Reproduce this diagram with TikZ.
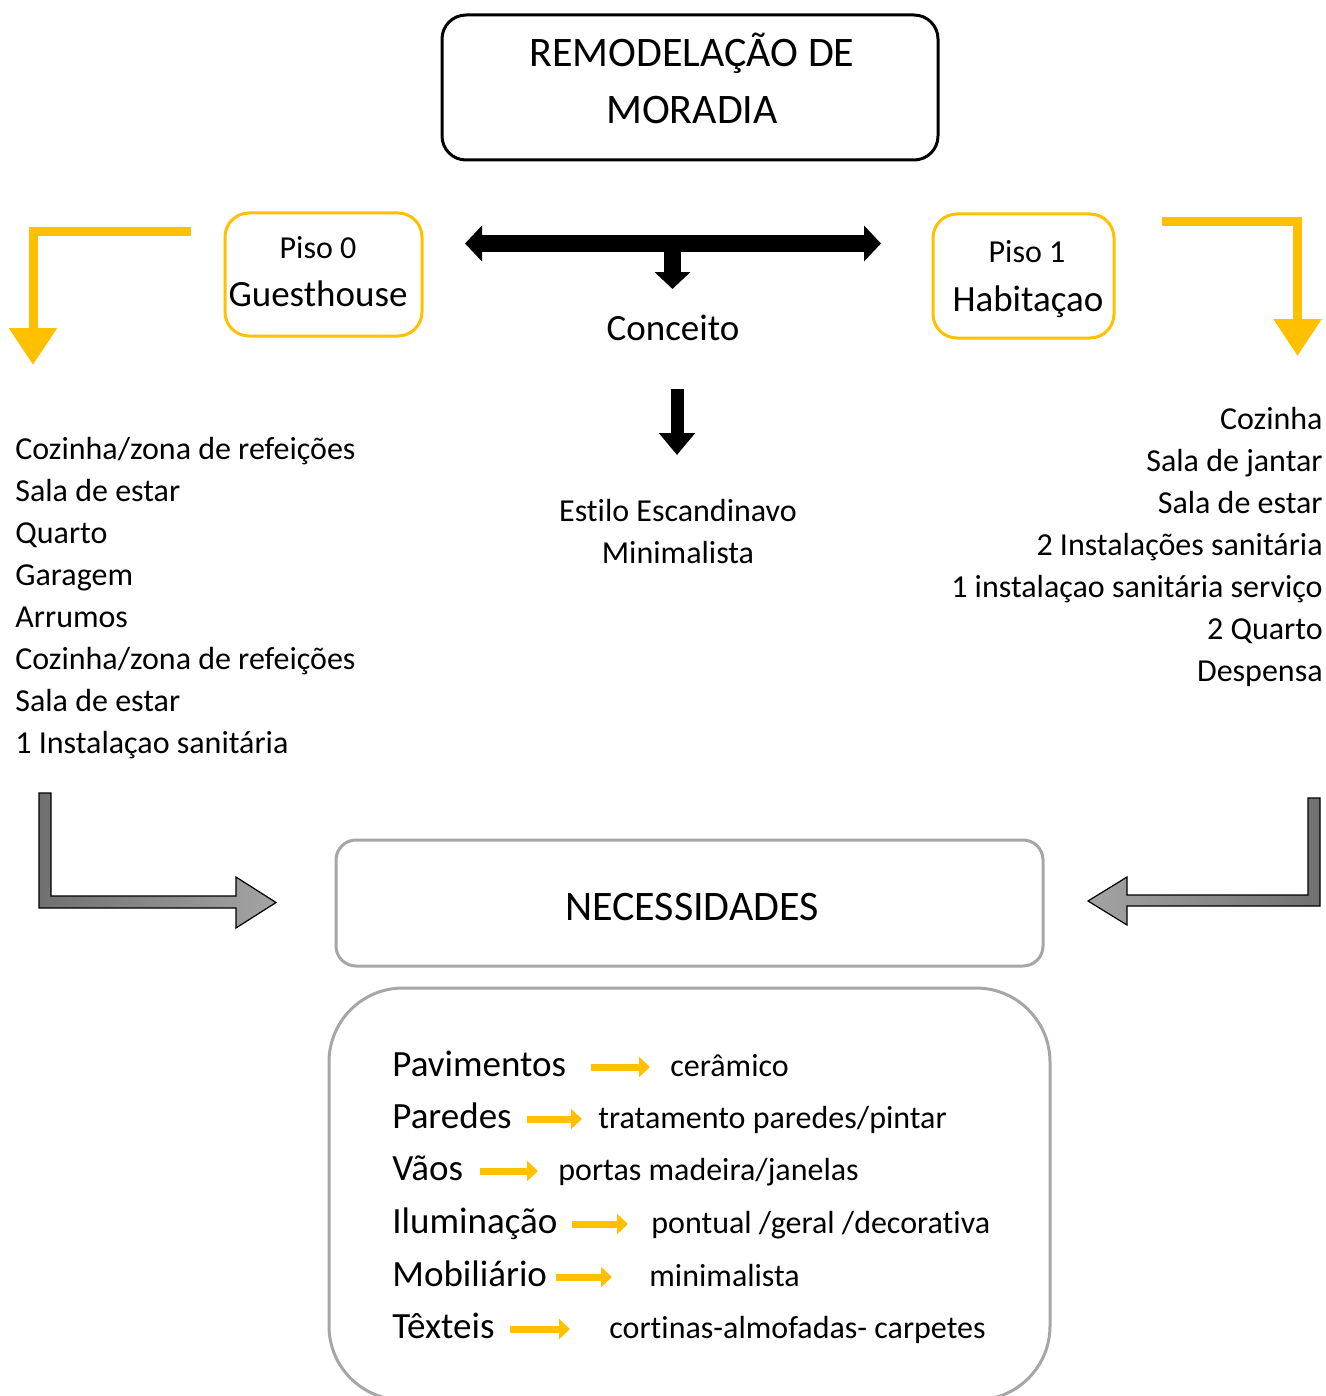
\documentclass[tikz,border=0pt]{standalone}
\usepackage{fontspec}
\setmainfont{Carlito}[Ligatures=NoCommon]
\usetikzlibrary{arrows.meta}
\definecolor{amarelo}{RGB}{255,192,0}
\definecolor{cinza}{RGB}{166,166,166}
\definecolor{cinzaesc}{RGB}{112,112,112}
\definecolor{cinzacla}{RGB}{164,164,164}

\begin{document}
\begin{tikzpicture}[
  x=0.5pt, y=-0.5pt,
  txtbig/.style={inner sep=0pt, font=\fontsize{21}{28.5}\selectfont},
  txtmid/.style={inner sep=0pt, font=\fontsize{18.5}{22}\selectfont},
  txtsmall/.style={inner sep=0pt, font=\fontsize{16}{21}\selectfont},
  titlebox/.style={draw, line width=1.5pt, rounded corners=12pt, inner sep=0pt},
  pisobox/.style={draw=amarelo, line width=1.5pt, rounded corners=12pt, inner sep=0pt},
  needbox/.style={draw=cinza, line width=1.5pt, inner sep=0pt},
  yelbent/.style={draw=amarelo, line width=4.5pt, -{Triangle[length=18.5pt,width=23pt]}},
  blackboth/.style={line width=8.5pt, {Triangle[length=8.5pt,width=17.5pt]}-{Triangle[length=8.5pt,width=17.5pt]}},
  blackstub/.style={line width=8.5pt, -{Triangle[length=8.5pt,width=17.5pt]}},
  blackdown/.style={line width=6.5pt, -{Triangle[length=11pt,width=17.5pt]}},
  itemarrow/.style={draw=amarelo, line width=3.5pt, -{Triangle[length=5.5pt,width=10pt]}},
  graybent/.style={draw=black, line width=0.6pt}]
\useasboundingbox (0,0) rectangle (1326,1396);

% titulo
\node[titlebox, minimum width=248pt, minimum height=72.5pt] (title) at (690,87.5) {};
\node[txtbig, align=center, anchor=base] (titletxt) at (692,124) {REMODELAÇÃO DE\\MORADIA};

% pisos
\node[pisobox, minimum width=98.5pt, minimum height=61.5pt] (piso0) at (323.5,274.5) {};
\node[txtsmall, anchor=base] (piso0a) at (318,258) {Piso 0};
\node[txtmid, anchor=base] (piso0b) at (318,306) {Guesthouse};
\node[pisobox, minimum width=90.5pt, minimum height=62pt] (piso1) at (1023.5,276) {};
\node[txtsmall, anchor=base] (piso1a) at (1027,263) {Piso 1};
\node[txtmid, anchor=base] (piso1b) at (1028,311) {Habitaçao};

% setas amarelas
\coordinate (ini0) at (191,231.5);
\coordinate (fim0) at (33,365);
\coordinate (ini1) at (1162,222);
\coordinate (fim1) at (1297.5,356);
\draw[yelbent] (ini0) -| (fim0);
\draw[yelbent] (ini1) -| (fim1);

% conceito
\coordinate (eixoE) at (465,243.5);
\coordinate (eixoD) at (881,243.5);
\coordinate (eixoM) at (672.5,250);
\coordinate (eixoP) at (672.5,289);
\draw[blackboth] (eixoE) -- (eixoD);
\draw[blackstub] (eixoM) -- (eixoP);
\node[txtmid, anchor=base] (conceito) at (673,340) {Conceito};
\coordinate (descI) at (677,389);
\coordinate (descF) at (677,455);
\draw[blackdown] (descI) -- (descF);
\node[txtsmall, align=center, anchor=base] (estilo) at (678,563) {Estilo Escandinavo\\Minimalista};

% listas
\node[txtsmall, align=left, anchor=base west] (lista0) at (15,753)
  {Cozinha/zona de refeições\\Sala de estar\\Quarto\\Garagem\\Arrumos\\Cozinha/zona de refeições\\Sala de estar\\1 Instalaçao sanitária};
\node[txtsmall, align=right, anchor=base east] (lista1) at (1323,681)
  {Cozinha\\Sala de jantar\\Sala de estar\\2 Instalações sanitária\\1 instalaçao sanitária serviço\\2 Quarto\\Despensa};

% setas cinzentas
\shadedraw[graybent, left color=cinzaesc, right color=cinzacla]
  (39,793) -- (51,793) -- (51,896) -- (236,896) -- (236,877) -- (276,902.5)
  -- (236,928) -- (236,908) -- (39,908) -- cycle;
\shadedraw[graybent, left color=cinzacla, right color=cinzaesc]
  (1308,798) -- (1320,798) -- (1320,906) -- (1127,906) -- (1127,925) -- (1088,901)
  -- (1127,877) -- (1127,895) -- (1308,895) -- cycle;

% necessidades
\node[needbox, rounded corners=10pt, minimum width=353.5pt, minimum height=63pt] (need) at (689.5,903) {};
\node[txtbig, anchor=base] (needtxt) at (692,920) {NECESSIDADES};
\node[needbox, rounded corners=37pt, minimum width=360.5pt, minimum height=206pt] (itens) at (689.5,1194) {};

\node[txtmid, anchor=base west] (pav) at (392,1076) {Pavimentos};
\node[txtsmall, anchor=base west] (cer) at (670,1076) {cerâmico};
\node[txtmid, anchor=base west] (par) at (392,1128) {Paredes};
\node[txtsmall, anchor=base west] (trat) at (598,1128) {tratamento paredes/pintar};
\node[txtmid, anchor=base west] (vao) at (392,1180) {Vãos};
\node[txtsmall, anchor=base west] (port) at (558,1180) {portas madeira/janelas};
\node[txtmid, anchor=base west] (ilum) at (392,1233) {Iluminação};
\node[txtsmall, anchor=base west] (pont) at (651,1233) {pontual /geral /decorativa};
\node[txtmid, anchor=base west] (mob) at (392,1286) {Mobiliário};
\node[txtsmall, anchor=base west] (mini) at (649,1286) {minimalista};
\node[txtmid, anchor=base west] (tex) at (392,1338) {Têxteis};
\node[txtsmall, anchor=base west] (cort) at (609,1338) {cortinas-almofadas- carpetes};

\draw[itemarrow] ([xshift=12pt,yshift=4.5pt]pav.base east) -- ([xshift=-10pt,yshift=4.5pt]cer.base west);
\draw[itemarrow] ([xshift=7.5pt,yshift=4.5pt]par.base east) -- ([xshift=-8pt,yshift=4.5pt]trat.base west);
\draw[itemarrow] ([xshift=8.5pt,yshift=4.5pt]vao.base east) -- ([xshift=-10pt,yshift=4.5pt]port.base west);
\draw[itemarrow] ([xshift=7pt,yshift=4.5pt]ilum.base east) -- ([xshift=-11.5pt,yshift=4.5pt]pont.base west);
\draw[itemarrow] ([xshift=4.5pt,yshift=4.5pt]mob.base east) -- ([xshift=-18.5pt,yshift=4.5pt]mini.base west);
\draw[itemarrow] ([xshift=7.5pt,yshift=4.5pt]tex.base east) -- ([xshift=-19.5pt,yshift=4.5pt]cort.base west);
\end{tikzpicture}
\end{document}
